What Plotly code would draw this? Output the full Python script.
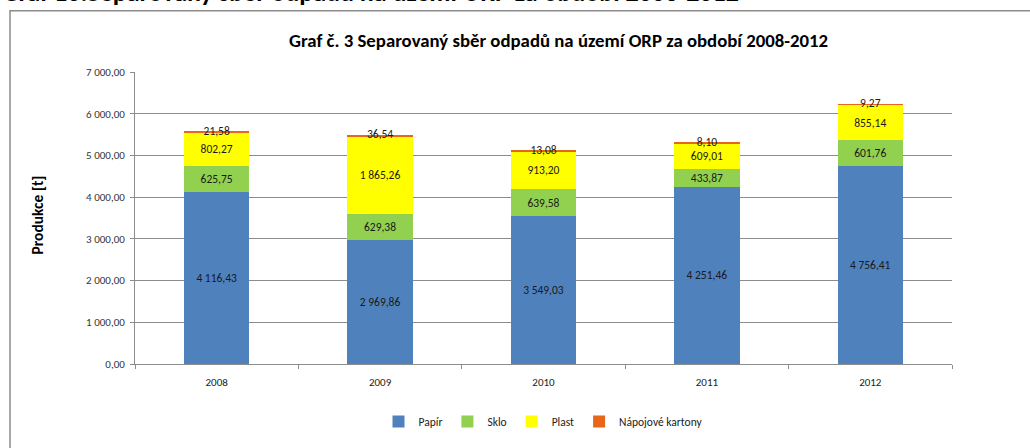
import plotly.graph_objects as go
import numpy as np

years = ["2008", "2009", "2010", "2011", "2012"]
papir = [4116.43, 2969.86, 3549.03, 4251.46, 4756.41]
sklo = [625.75, 629.38, 639.58, 433.87, 601.76]
plast = [802.27, 1865.26, 913.20, 609.01, 855.14]
kartony = [21.58, 36.54, 13.08, 8.10, 9.27]

FONT = "Liberation Sans Narrow, Carlito, Calibri, Arial Narrow, sans-serif"

# plot area in pixels, used to place the free texts
L, R, T, B = 135, 78, 72, 81
W, H = 1030 - L - R, 448 - T - B


def px(x):
    return (x - L) / W


def py(y):
    return (448 - B - y) / H


fig = go.Figure()

series = [
    ("Papír", papir, "#4F81BD"),
    ("Sklo", sklo, "#92D050"),
    ("Plast", plast, "#FFFF00"),
]
for name, vals, col in series:
    fig.add_trace(go.Bar(
        x=years, y=vals, name=name,
        marker=dict(color=col, line=dict(width=0)),
        texttemplate="%{y:,.2f}", textposition="inside", insidetextanchor="middle",
        textfont=dict(family=FONT, size=11.5, color="#1a1a1a"),
        textangle=0,
    ))

fig.add_trace(go.Bar(
    x=years, y=kartony, name="Nápojové kartony",
    marker=dict(color="#E8661A", line=dict(width=0)),
))

# labels for the thin top segment, centred on it as Excel does
tops = np.array(papir) + np.array(sklo) + np.array(plast) + np.array(kartony) / 2
fig.add_trace(go.Scatter(
    x=years, y=tops, mode="text", text=[f"{v:.2f}".replace(".", ",") for v in kartony],
    textfont=dict(family=FONT, size=11.5, color="#1a1a1a"),
    showlegend=False, hoverinfo="skip", cliponaxis=False,
))

fig.update_layout(
    barmode="stack", bargap=0.6,
    width=1030, height=448,
    margin=dict(l=L, r=R, t=T, b=B),
    paper_bgcolor="white", plot_bgcolor="white",
    separators=", ",
    uniformtext=dict(minsize=11.5, mode="show"),
    font=dict(family=FONT, size=10, color="#222"),
    showlegend=True,
    legend=dict(
        orientation="h", x=px(543), y=py(425), xanchor="center", yanchor="middle",
        font=dict(family=FONT, size=11.5, color="#222"),
        itemwidth=30, traceorder="normal",
    ),
    yaxis=dict(
        range=[0, 7000], dtick=1000, tickformat=",.2f",
        showgrid=True, gridcolor="#8c8c8c", gridwidth=1,
        showline=True, linecolor="#8c8c8c", ticks="outside", ticklen=4, tickcolor="#8c8c8c",
        ticklabelstandoff=3, automargin=False,
        tickfont=dict(family=FONT, size=11, color="#333"), zeroline=False,
    ),
    xaxis=dict(
        showline=True, linecolor="#8c8c8c", ticks="outside", ticklen=4, tickcolor="#8c8c8c",
        tickson="boundaries", ticklabelstandoff=8, automargin=False,
        tickfont=dict(family=FONT, size=11, color="#222"),
    ),
    shapes=[dict(
        type="rect", xref="paper", yref="paper",
        x0=px(10), x1=px(1100), y0=py(520), y1=py(10),
        line=dict(color="#8c8c8c", width=1.5), fillcolor="rgba(0,0,0,0)", layer="below",
    )],
    annotations=[
        dict(
            text="<b>Graf 10.Separovaný sběr odpadů na území ORP za období 2008-2012</b>",
            xref="paper", yref="paper", x=px(0), y=py(-9), xanchor="left", yanchor="middle",
            showarrow=False, font=dict(family=FONT, size=26, color="black"),
        ),
        dict(
            text="<b>Graf č. 3 Separovaný sběr odpadů na území ORP za období 2008-2012</b>",
            xref="paper", yref="paper", x=px(558), y=py(40), xanchor="center", yanchor="middle",
            showarrow=False, font=dict(family=FONT, size=18.8, color="black"),
        ),
        dict(
            text="<b>Produkce [t]</b>", textangle=-90,
            xref="paper", yref="paper", x=px(38), y=py(217), xanchor="center", yanchor="middle",
            showarrow=False, font=dict(family=FONT, size=15.5, color="black"),
        ),
    ],
)

fig.write_html("out.html", config={"displayModeBar": False},
               post_script="document.body.style.margin='0';")
